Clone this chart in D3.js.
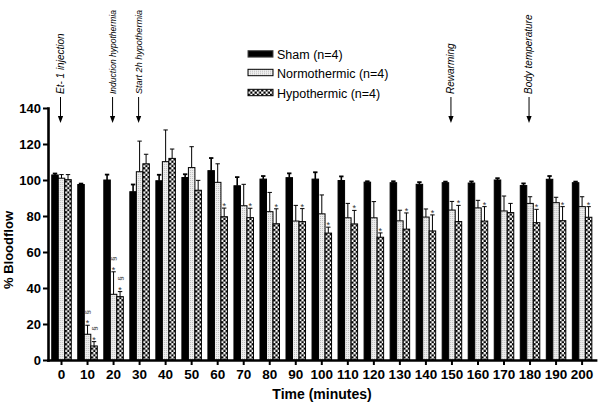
<!DOCTYPE html>
<html>
<head>
<meta charset="utf-8">
<script src="https://cdn.jsdelivr.net/npm/d3@7"></script>
<style>
  html, body { margin: 0; padding: 0; background: #fff; }
  svg { display: block; }
  text { font-family: Arial, "Liberation Sans", sans-serif; }
</style>
</head>
<body>
<svg id="chart" width="600" height="404"></svg>
<script>
// ---------------- data ----------------
const times = [0,10,20,30,40,50,60,70,80,90,100,110,120,130,140,150,160,170,180,190,200];
const seriesNames = ["Sham (n=4)", "Normothermic (n=4)", "Hypothermic (n=4)"];
const sham      = [102.8, 97.5, 100.0, 93.5, 99.6, 101.4, 105.2, 96.8, 100.5, 101.3, 100.5, 99.7, 98.8, 98.5, 97.6, 98.5, 98.3, 100.0, 96.9, 100.4, 98.5];
const shamErr   = [0.8, 0.5, 3.0, 4.0, 3.3, 1.8, 7.0, 4.8, 1.7, 2.4, 3.8, 2.3, 0.5, 0.8, 1.2, 0.6, 0.9, 1.0, 1.2, 1.8, 0.6];
const normo     = [101.0, 14.3, 36.5, 104.6, 110.2, 106.9, 98.7, 85.7, 82.4, 77.2, 81.2, 79.0, 79.0, 77.3, 79.4, 83.3, 84.5, 82.8, 87.0, 87.4, 85.2];
const normoErr  = [2.0, 5.0, 12.5, 17.0, 17.6, 11.6, 10.3, 11.9, 10.7, 8.7, 10.5, 8.0, 9.0, 5.9, 4.5, 4.8, 4.2, 8.3, 3.7, 3.0, 5.5];
const hypo      = [100.2, 7.8, 35.2, 109.0, 112.0, 94.3, 79.6, 79.1, 75.7, 76.9, 70.5, 75.6, 68.2, 72.7, 71.7, 76.9, 77.2, 81.9, 76.3, 77.4, 79.3];
const hypoErr   = [2.8, 2.4, 2.8, 5.3, 5.2, 5.5, 4.8, 5.2, 8.3, 7.2, 3.3, 7.5, 2.4, 9.0, 8.9, 9.0, 8.0, 5.1, 7.4, 7.8, 5.9];
const yTicks = [0, 20, 40, 60, 80, 100, 120, 140];
// significance marks: "*" vs sham, "§" second marker
const starTimesHypo = [60,70,80,90,100,110,120,130,140,150,160,180,190,200];
const doubleMarkTimes = [10, 20]; // "*" and "§" on normo + hypo
const events = [
  {t: 0,   label: "Et- 1 injection"},
  {t: 20,  label: "Induction hypothermia"},
  {t: 30,  label: "Start 2h hypothermia"},
  {t: 150, label: "Rewarming"},
  {t: 180, label: "Body temperature"}
];
const xTitle = "Time (minutes)";
const yTitle = "% Bloodflow";

// ---------------- build ----------------
const values = [sham, normo, hypo];
const errs = [shamErr, normoErr, hypoErr];
const table = times.map((t, i) => ({
  t, bars: seriesNames.map((s, k) => ({ s, k, v: values[k][i], e: errs[k][i] }))
}));

const svg = d3.select("#chart");
const defs = svg.append("defs");

const dots = defs.append("pattern").attr("id", "dots").attr("patternUnits", "userSpaceOnUse")
  .attr("width", 2).attr("height", 2);
dots.append("rect").attr("width", 2).attr("height", 2).attr("fill", "#eeeeee");
dots.append("rect").attr("width", 1).attr("height", 1).attr("fill", "#bdbdbd");

const checker = defs.append("pattern").attr("id", "checker").attr("patternUnits", "userSpaceOnUse")
  .attr("width", 4.4).attr("height", 4.4);
checker.append("rect").attr("width", 4.4).attr("height", 4.4).attr("fill", "#fff");
checker.append("rect").attr("width", 2.2).attr("height", 2.2).attr("fill", "#000");
checker.append("rect").attr("x", 2.2).attr("y", 2.2).attr("width", 2.2).attr("height", 2.2).attr("fill", "#000");

const fills = ["#000", "url(#dots)", "url(#checker)"];

const x = d3.scaleBand().domain(times).range([48, 595.6]).paddingInner(0.25).paddingOuter(0.144);
const xs = d3.scaleBand().domain(d3.range(3)).range([0, x.bandwidth()]);
const y = d3.scaleLinear().domain([0, 140]).range([360, 108]);

// bars
const groups = svg.append("g").selectAll("g").data(table).join("g")
  .attr("transform", d => `translate(${x(d.t)},0)`);

groups.selectAll("rect").data(d => d.bars).join("rect")
  .attr("x", d => xs(d.k))
  .attr("y", d => y(d.v))
  .attr("width", xs.bandwidth())
  .attr("height", d => y(0) - y(d.v))
  .attr("fill", d => fills[d.k])
  .attr("stroke", "#000")
  .attr("stroke-width", 1);

// error bars (upper only)
const eb = groups.selectAll("g.err").data(d => d.bars).join("g").attr("class", "err");
eb.append("line")
  .attr("x1", d => xs(d.k) + xs.bandwidth() / 2)
  .attr("x2", d => xs(d.k) + xs.bandwidth() / 2)
  .attr("y1", d => y(d.v))
  .attr("y2", d => y(d.v + d.e))
  .attr("stroke", "#000").attr("stroke-width", d => d.k === 0 ? 1.6 : 1);
eb.append("line")
  .attr("x1", d => xs(d.k) + xs.bandwidth() / 2 - 2.2)
  .attr("x2", d => xs(d.k) + xs.bandwidth() / 2 + 2.2)
  .attr("y1", d => y(d.v + d.e))
  .attr("y2", d => y(d.v + d.e))
  .attr("stroke", "#000").attr("stroke-width", d => d.k === 0 ? 1.8 : 1);

// stars on hypothermic
groups.filter(d => starTimesHypo.includes(d.t)).append("text")
  .attr("x", xs(2) + xs.bandwidth() / 2)
  .attr("y", d => y(d.bars[2].v + d.bars[2].e) + 1)
  .attr("text-anchor", "middle")
  .attr("font-size", 9)
  .attr("fill", "#333")
  .text("*");

// double marks at 10, 20
const dm = groups.filter(d => doubleMarkTimes.includes(d.t)).selectAll("g.dm")
  .data(d => d.bars.filter(b => b.k > 0)).join("g").attr("class", "dm");
dm.append("text")
  .attr("x", d => xs(d.k) + xs.bandwidth() / 2)
  .attr("y", d => y(d.v + d.e) + 1)
  .attr("text-anchor", "middle")
  .attr("font-size", 9)
  .attr("fill", "#333")
  .text("*");
dm.append("text")
  .attr("transform", d => `translate(${xs(d.k) + xs.bandwidth() / 2},${y(d.v + d.e) - 13}) rotate(-90)`)
  .attr("text-anchor", "middle")
  .attr("dominant-baseline", "central")
  .attr("font-size", 8)
  .attr("fill", "#333")
  .text("§");

// axes
const yAxis = svg.append("g").attr("transform", "translate(48,0)")
  .call(d3.axisLeft(y).tickValues(yTicks).tickSize(5).tickSizeOuter(0).tickPadding(2));
const xAxis = svg.append("g").attr("transform", "translate(0,360)")
  .call(d3.axisBottom(x).tickSize(5).tickSizeOuter(0).tickPadding(4));
[yAxis, xAxis].forEach(a => {
  a.select(".domain").attr("stroke", "#000").attr("stroke-width", 2.6).attr("stroke-linecap", "square");
  a.selectAll(".tick line").attr("stroke", "#000").attr("stroke-width", 2);
  a.selectAll(".tick text").attr("fill", "#000").attr("font-weight", "bold")
    .attr("font-family", "Arial, 'Liberation Sans', sans-serif");
});
yAxis.selectAll(".tick text").attr("font-size", 13);
xAxis.selectAll(".tick text").attr("font-size", 13.5);

// titles
svg.append("text").attr("x", 322).attr("y", 399).attr("text-anchor", "middle")
  .attr("font-weight", "bold").attr("font-size", 14).text(xTitle);
svg.append("text").attr("transform", "translate(13,250) rotate(-90)").attr("text-anchor", "middle")
  .attr("font-weight", "bold").attr("font-size", 13).text(yTitle);

// event annotations
const ev = svg.append("g").selectAll("g").data(events).join("g")
  .attr("transform", d => `translate(${x(d.t) + x.bandwidth() / 2 - 1},0)`);
ev.append("text")
  .attr("transform", "translate(3.4,94) rotate(-90)")
  .attr("font-size", 10).attr("font-style", "italic").text(d => d.label)
  .each(function () {
    const len = this.getComputedTextLength();
    if (len > 84) d3.select(this).attr("font-size", (10 * 84 / len).toFixed(2));
  });
ev.append("line").attr("x1", 0).attr("x2", 0).attr("y1", 97).attr("y2", 117)
  .attr("stroke", "#000").attr("stroke-width", 1);
ev.append("path").attr("d", "M-2.6,116 L2.6,116 L0,123 Z").attr("fill", "#000");

// legend
const legend = svg.append("g").attr("transform", "translate(248,0)");
const legRowTop = [50.7, 69.3, 89.3];
const lg = legend.selectAll("g").data(seriesNames).join("g")
  .attr("transform", (d, i) => `translate(0,${legRowTop[i]})`);
lg.append("rect").attr("width", 25).attr("height", 6.4)
  .attr("fill", (d, i) => fills[i]).attr("stroke", (d, i) => i === 0 ? "#444" : "#000").attr("stroke-width", 1);
lg.append("text").attr("x", 29).attr("y", 8.5).attr("font-size", 12.5).text(d => d);
</script>
</body>
</html>
